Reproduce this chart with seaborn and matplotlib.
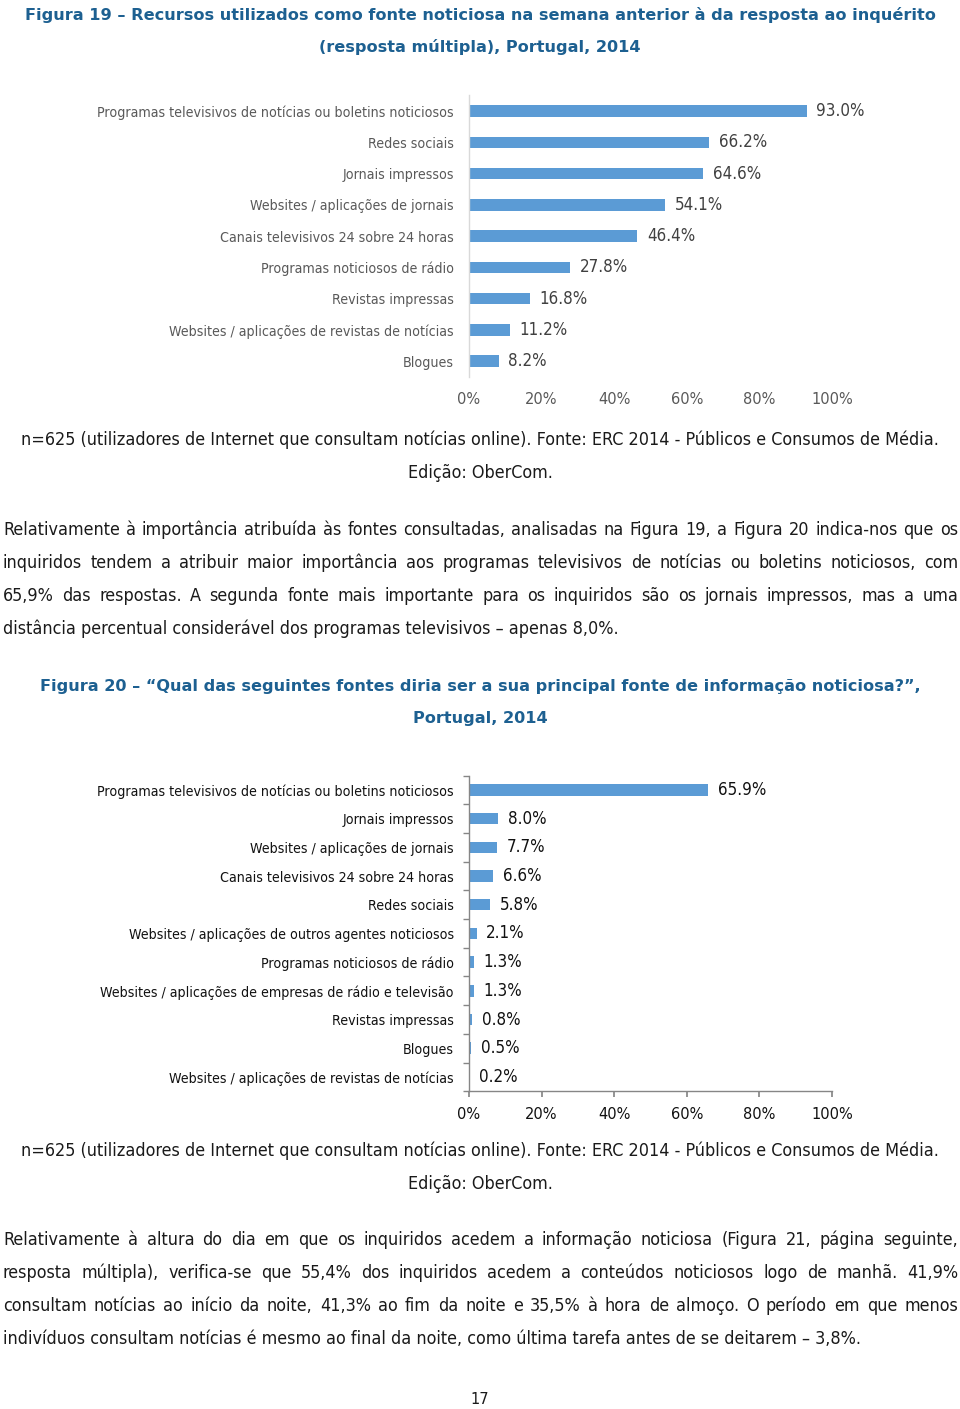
import numpy as np
import pandas as pd
import matplotlib
matplotlib.use("Agg")
import matplotlib.pyplot as plt
import seaborn as sns
from matplotlib import font_manager as fm
from matplotlib.font_manager import FontProperties

# ---------------- data ----------------
cats1 = ["Programas televisivos de notícias ou boletins noticiosos", "Redes sociais",
         "Jornais impressos", "Websites / aplicações de jornais",
         "Canais televisivos 24 sobre 24 horas", "Programas noticiosos de rádio",
         "Revistas impressas", "Websites / aplicações de revistas de notícias", "Blogues"]
vals1 = [93.0, 66.2, 64.6, 54.1, 46.4, 27.8, 16.8, 11.2, 8.2]

cats2 = ["Programas televisivos de notícias ou boletins noticiosos", "Jornais impressos",
         "Websites / aplicações de jornais", "Canais televisivos 24 sobre 24 horas",
         "Redes sociais", "Websites / aplicações de outros agentes noticiosos",
         "Programas noticiosos de rádio", "Websites / aplicações de empresas de rádio e televisão",
         "Revistas impressas", "Blogues", "Websites / aplicações de revistas de notícias"]
vals2 = [65.9, 8.0, 7.7, 6.6, 5.8, 2.1, 1.3, 1.3, 0.8, 0.5, 0.2]

xticks = [0, 20, 40, 60, 80, 100]
xticklabels = ["0%", "20%", "40%", "60%", "80%", "100%"]

title1 = ["Figura 19 – Recursos utilizados como fonte noticiosa na semana anterior à da resposta ao inquérito",
          "(resposta múltipla), Portugal, 2014"]
title2 = ["Figura 20 – “Qual das seguintes fontes diria ser a sua principal fonte de informação noticiosa?”,",
          "Portugal, 2014"]
caption = ["n=625 (utilizadores de Internet que consultam notícias online). Fonte: ERC 2014 - Públicos e Consumos de Média.",
           "Edição: OberCom."]
para1 = ["Relativamente à importância atribuída às fontes consultadas, analisadas na Figura 19, a Figura 20 indica-nos que os",
         "inquiridos tendem a atribuir maior importância aos programas televisivos de notícias ou boletins noticiosos, com",
         "65,9% das respostas. A segunda fonte mais importante para os inquiridos são os jornais impressos, mas a uma",
         "distância percentual considerável dos programas televisivos – apenas 8,0%."]
para2 = ["Relativamente à altura do dia em que os inquiridos acedem a informação noticiosa (Figura 21, página seguinte,",
         "resposta múltipla), verifica-se que 55,4% dos inquiridos acedem a conteúdos noticiosos logo de manhã. 41,9%",
         "consultam notícias ao início da noite, 41,3% ao fim da noite e 35,5% à hora de almoço. O período em que menos",
         "indivíduos consultam notícias é mesmo ao final da noite, como última tarefa antes de se deitarem – 3,8%."]
page_no = "17"

# ---------------- style ----------------
sns.set_theme(style="white")
plt.rcParams["font.family"] = ["DejaVu Sans"]
BAR = "#5B9BD5"
TITLE_C = "#1D6091"

W, H = 960, 1409
fig = plt.figure(figsize=(W / 100, H / 100), dpi=100)
fig.patch.set_facecolor("white")
renderer = fig.canvas.get_renderer()


def pick_narrow():
    for f in fm.fontManager.ttflist:
        fn = f.fname.lower()
        if f.name == "Liberation Sans Narrow" and "bold" not in fn and "italic" not in fn:
            return FontProperties(fname=f.fname)
    for f in fm.fontManager.ttflist:
        fn = f.fname.lower()
        if f.name == "DejaVu Sans" and "condensed" in fn and "bold" not in fn and "oblique" not in fn:
            return FontProperties(fname=f.fname)
    return FontProperties(family="Liberation Sans")


NARROW = pick_narrow()
BOLD = FontProperties(family="DejaVu Sans", weight="bold")


def sized(fp, size):
    p = fp.copy()
    p.set_size(size)
    return p


def text_w(s, fp):
    t = fig.text(0, 0, s, fontproperties=fp)
    w = t.get_window_extent(renderer).width
    t.remove()
    return w


def fit(s, fp, target):
    return sized(fp, 10 * target / text_w(s, sized(fp, 10)))


def put(s, xpx, ypx, fp, color, ha="center"):
    fig.text(xpx / W, 1 - ypx / H, s, fontproperties=fp, color=color, ha=ha, va="center")


def justify(line, ypx, fp, color, x0=3, x1=958):
    words = line.split(" ")
    ws = [text_w(w, fp) for w in words]
    gap = (x1 - x0 - sum(ws)) / (len(words) - 1)
    x = x0
    for w, wd in zip(words, ws):
        put(w, x, ypx, fp, color, ha="left")
        x += wd + gap


# fonts
fp_title = fit(title1[0], BOLD, 910)
fp_cap = fit(caption[0], NARROW, 921)
fp_body = fit(para2[3], NARROW, 857)
fp_lab = fit(cats1[0], NARROW, 355)
fp_tick = fit("100%", NARROW, 42)
fp_val = fit("93.0%", NARROW, 48)

# ---------------- text blocks ----------------
put(title1[0], 480, 15, fp_title, TITLE_C)
put(title1[1], 480, 47, fp_title, TITLE_C)
put(caption[0], 480, 440, fp_cap, "#1a1a1a")
put(caption[1], 480, 473, fp_cap, "#1a1a1a")
for i, (ln, y) in enumerate(zip(para1, [530, 563, 596, 629])):
    if i < len(para1) - 1:
        justify(ln, y, fp_body, "#1a1a1a")
    else:
        put(ln, 3, y, fp_body, "#1a1a1a", ha="left")
put(title2[0], 480, 686, fp_title, TITLE_C)
put(title2[1], 480, 719, fp_title, TITLE_C)
put(caption[0], 480, 1151, fp_cap, "#1a1a1a")
put(caption[1], 480, 1184, fp_cap, "#1a1a1a")
for i, (ln, y) in enumerate(zip(para2, [1240, 1273, 1306, 1339])):
    if i < len(para2) - 1:
        justify(ln, y, fp_body, "#1a1a1a")
    else:
        put(ln, 3, y, fp_body, "#1a1a1a", ha="left")
put(page_no, 480, 1400, fp_tick, "#1a1a1a")


# ---------------- charts ----------------
def make_chart(cats, vals, top_px, step_px, lab_color, val_color, tick_color, framed):
    n = len(cats)
    height_px = n * step_px
    ax = fig.add_axes([469 / W, 1 - (top_px + height_px) / H, 363 / W, height_px / H])
    df = pd.DataFrame({"cat": cats, "val": vals})
    sns.barplot(data=df, x="val", y="cat", orient="h", color=BAR, saturation=1,
                width=11.5 / step_px, linewidth=0, edgecolor="none", ax=ax)
    ax.set_xlim(0, 100)
    ax.set_ylim(n - 0.5, -0.5)
    ax.set_xlabel("")
    ax.set_ylabel("")
    ax.set_xticks(xticks)
    ax.set_xticklabels(xticklabels)
    for t in ax.get_xticklabels():
        t.set_fontproperties(fp_tick)
        t.set_color(tick_color)
    for t in ax.get_yticklabels():
        t.set_fontproperties(fp_lab)
        t.set_color(lab_color)
    ax.bar_label(ax.containers[0], labels=[f"{v:.1f}%" for v in vals], padding=7,
                 fontproperties=fp_val, color=val_color)
    for s in ["top", "right"]:
        ax.spines[s].set_visible(False)
    if framed:
        ax.spines["left"].set_color("#868686")
        ax.spines["bottom"].set_color("#868686")
        ax.spines["left"].set_linewidth(1.0)
        ax.spines["bottom"].set_linewidth(1.0)
        ax.set_yticks(np.arange(-0.5, n, 1), minor=True)
        ax.tick_params(axis="y", which="major", length=0, pad=10.8)
        ax.tick_params(axis="y", which="minor", length=4, color="#868686", direction="out", left=True)
        ax.tick_params(axis="x", which="major", length=4, color="#868686", direction="out",
                       bottom=True, pad=7)
    else:
        ax.spines["bottom"].set_visible(False)
        ax.spines["left"].set_color("#D9D9D9")
        ax.spines["left"].set_linewidth(1.0)
        ax.tick_params(axis="y", length=0, pad=10.8)
        ax.tick_params(axis="x", length=0, pad=11)
    ax.grid(False)
    ax.set_facecolor("none")
    return ax


make_chart(cats1, vals1, 95.4, 31.25, "#595959", "#404040", "#595959", framed=False)
make_chart(cats2, vals2, 775.6, 28.7, "#111111", "#111111", "#111111", framed=True)

fig.savefig("out.png", dpi=100, facecolor="white")
